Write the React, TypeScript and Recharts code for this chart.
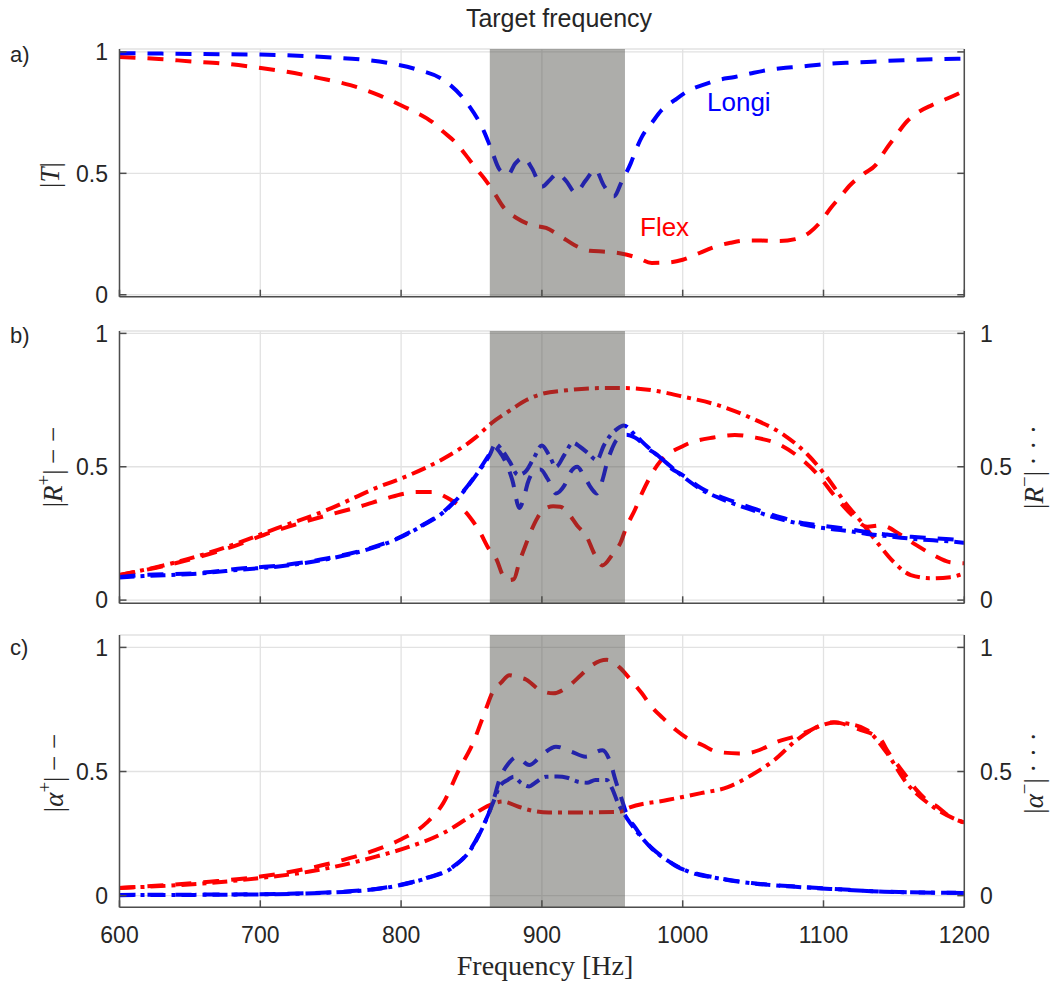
import React from 'react'
import { LineChart, Line, XAxis, YAxis, CartesianGrid, ReferenceArea } from 'recharts'

// axis ticks
const freqTicks = [600, 700, 800, 900, 1000, 1100, 1200]
const valueTicks = [0, 0.5, 1]
const bandStart = 863
const bandEnd = 959

// a) |T|
const tLongiF = [600, 630, 660, 700, 745, 790, 811, 832, 847, 859, 864, 870, 876, 881, 887, 893, 900, 906, 911, 917, 924, 931, 938, 944, 951, 957, 963, 967, 971, 978, 985, 994, 1005, 1015, 1025, 1037, 1048, 1060, 1070, 1083, 1093, 1105, 1116, 1135, 1157, 1180, 1200]
const tLongiV = [0.995, 0.993, 0.991, 0.989, 0.979, 0.955, 0.928, 0.877, 0.788, 0.671, 0.6, 0.515, 0.495, 0.54, 0.565, 0.52, 0.445, 0.475, 0.5, 0.47, 0.42, 0.47, 0.515, 0.45, 0.405, 0.47, 0.54, 0.6, 0.65, 0.707, 0.76, 0.8, 0.843, 0.865, 0.884, 0.897, 0.911, 0.925, 0.933, 0.939, 0.945, 0.952, 0.955, 0.96, 0.966, 0.97, 0.972]
const tFlexF = [600, 628, 651, 674, 696, 719, 742, 764, 785, 801, 812, 822, 830, 839, 846, 853, 861, 867, 873, 882, 892, 903, 914, 923, 934, 946, 957, 968, 978, 990, 1000, 1012, 1022, 1034, 1045, 1056, 1068, 1080, 1090, 1098, 1105, 1112, 1119, 1129, 1137, 1144, 1151, 1158, 1166, 1177, 1188, 1200]
const tFlexV = [0.979, 0.971, 0.961, 0.952, 0.937, 0.918, 0.892, 0.863, 0.82, 0.777, 0.747, 0.712, 0.671, 0.625, 0.575, 0.522, 0.464, 0.411, 0.358, 0.316, 0.288, 0.275, 0.238, 0.205, 0.181, 0.177, 0.169, 0.152, 0.131, 0.133, 0.144, 0.172, 0.196, 0.214, 0.223, 0.223, 0.221, 0.229, 0.256, 0.301, 0.356, 0.404, 0.452, 0.5, 0.534, 0.596, 0.651, 0.706, 0.747, 0.781, 0.808, 0.84]

// b) |R+| (dashed) and |R-| (dash-dot)
const rPlusLongiF = [600, 617, 652, 688, 716, 747, 773, 797, 815, 830, 842, 853, 863, 866, 870, 874, 879, 884, 887, 890, 895, 899, 904, 910, 916, 921, 925, 930, 935, 939, 943, 946, 950, 953, 960, 966, 975, 985, 989, 1001, 1013, 1025, 1037, 1049, 1060, 1072, 1084, 1096, 1108, 1120, 1131, 1143, 1155, 1167, 1178, 1190, 1200]
const rPlusLongiV = [0.087, 0.094, 0.1, 0.119, 0.131, 0.156, 0.1875, 0.231, 0.281, 0.331, 0.394, 0.469, 0.55, 0.575, 0.555, 0.52, 0.45, 0.345, 0.38, 0.44, 0.485, 0.49, 0.455, 0.4, 0.43, 0.485, 0.5, 0.465, 0.42, 0.4, 0.45, 0.51, 0.57, 0.6, 0.62, 0.61, 0.57, 0.53, 0.506, 0.465, 0.42, 0.392, 0.368, 0.346, 0.326, 0.307, 0.29, 0.281, 0.273, 0.264, 0.255, 0.247, 0.24, 0.236, 0.232, 0.228, 0.225]
const rMinusLongiF = [600, 617, 652, 688, 716, 747, 773, 797, 815, 830, 842, 853, 863, 867, 872, 877, 883, 888, 894, 900, 905, 910, 916, 922, 927, 933, 939, 944, 949, 953, 958, 966, 975, 985, 1001, 1013, 1025, 1037, 1049, 1060, 1072, 1084, 1096, 1108, 1120, 1131, 1143, 1155, 1167, 1178, 1190, 1200]
const rMinusLongiV = [0.085, 0.09, 0.098, 0.115, 0.128, 0.153, 0.185, 0.229, 0.279, 0.329, 0.392, 0.467, 0.545, 0.585, 0.56, 0.52, 0.47, 0.48, 0.53, 0.58, 0.545, 0.5, 0.545, 0.59, 0.575, 0.55, 0.525, 0.58, 0.62, 0.64, 0.655, 0.62, 0.575, 0.53, 0.46, 0.415, 0.385, 0.36, 0.338, 0.318, 0.3, 0.285, 0.273, 0.265, 0.257, 0.248, 0.241, 0.234, 0.228, 0.224, 0.22, 0.215]
const rPlusFlexF = [600, 641, 676, 712, 747, 770, 790, 801, 811, 822, 834, 842, 849, 856, 862, 868, 872, 876, 880, 884, 888, 892, 897, 903, 908, 913, 918, 925, 932, 937, 943, 950, 956, 960, 966, 971, 982, 1001, 1022, 1037, 1051, 1070, 1084, 1096, 1108, 1120, 1131, 1141, 1155, 1166, 1178, 1190, 1200]
const rPlusFlexV = [0.094, 0.14, 0.193, 0.262, 0.317, 0.35, 0.382, 0.398, 0.405, 0.405, 0.38, 0.35, 0.31, 0.255, 0.195, 0.15, 0.095, 0.075, 0.078, 0.143, 0.2, 0.255, 0.31, 0.345, 0.352, 0.35, 0.33, 0.28, 0.236, 0.176, 0.13, 0.17, 0.217, 0.274, 0.338, 0.4, 0.506, 0.58, 0.61, 0.619, 0.61, 0.58, 0.53, 0.47, 0.39, 0.32, 0.275, 0.28, 0.244, 0.206, 0.169, 0.142, 0.138]
const rMinusFlexF = [600, 641, 676, 712, 747, 782, 806, 830, 853, 865, 877, 889, 898, 918, 942, 958, 978, 1001, 1025, 1049, 1072, 1089, 1103, 1115, 1127, 1138, 1150, 1162, 1176, 1190, 1200]
const rMinusFlexV = [0.094, 0.143, 0.199, 0.27, 0.337, 0.42, 0.469, 0.53, 0.61, 0.667, 0.71, 0.75, 0.77, 0.787, 0.795, 0.795, 0.787, 0.762, 0.731, 0.682, 0.619, 0.544, 0.457, 0.368, 0.292, 0.217, 0.142, 0.094, 0.082, 0.086, 0.1]

// c) |alpha+| (dashed) and |alpha-| (dash-dot)
const aPlusLongiF = [600, 700, 759, 799, 818, 837, 849, 858, 865, 870, 876, 882, 891, 900, 910, 921, 931, 943, 949, 952, 956, 961, 966, 971, 978, 989, 996, 1006, 1025, 1049, 1084, 1108, 1143, 1200]
const aPlusLongiV = [0.003, 0.006, 0.016, 0.043, 0.071, 0.117, 0.184, 0.278, 0.373, 0.47, 0.53, 0.558, 0.526, 0.567, 0.6, 0.58, 0.56, 0.586, 0.53, 0.47, 0.4, 0.317, 0.277, 0.236, 0.192, 0.144, 0.116, 0.095, 0.071, 0.051, 0.035, 0.027, 0.016, 0.011]
const aMinusLongiF = [600, 700, 759, 799, 818, 837, 849, 858, 865, 870, 876, 880, 885, 891, 895, 903, 911, 918, 925, 932, 938, 946, 950, 954, 958, 963, 970, 978, 989, 1006, 1025, 1049, 1084, 1108, 1143, 1200]
const aMinusLongiV = [0.002, 0.005, 0.015, 0.042, 0.07, 0.115, 0.182, 0.275, 0.37, 0.44, 0.467, 0.479, 0.455, 0.44, 0.454, 0.479, 0.48, 0.475, 0.46, 0.455, 0.466, 0.466, 0.43, 0.373, 0.333, 0.29, 0.24, 0.19, 0.142, 0.093, 0.07, 0.05, 0.034, 0.026, 0.016, 0.011]
const aPlusFlexF = [600, 664, 700, 735, 759, 782, 799, 818, 830, 841, 851, 860, 865, 871, 877, 883, 889, 898, 908, 918, 928, 936, 946, 951, 956, 963, 971, 978, 986, 995, 1003, 1014, 1024, 1040, 1047, 1058, 1067, 1079, 1091, 1100, 1107, 1112, 1122, 1133, 1141, 1145, 1150, 1159, 1166, 1173, 1181, 1190, 1200]
const aPlusFlexV = [0.031, 0.056, 0.077, 0.111, 0.144, 0.184, 0.224, 0.293, 0.373, 0.506, 0.614, 0.748, 0.82, 0.858, 0.888, 0.88, 0.87, 0.83, 0.815, 0.84, 0.89, 0.93, 0.95, 0.94, 0.915, 0.87, 0.815, 0.76, 0.715, 0.668, 0.635, 0.607, 0.58, 0.573, 0.575, 0.595, 0.62, 0.64, 0.667, 0.692, 0.698, 0.695, 0.675, 0.655, 0.627, 0.587, 0.547, 0.479, 0.426, 0.386, 0.358, 0.317, 0.295]
const aMinusFlexF = [600, 664, 700, 735, 759, 782, 806, 830, 849, 863, 872, 884, 891, 905, 930, 955, 961, 989, 1013, 1032, 1049, 1065, 1081, 1096, 1108, 1120, 1131, 1145, 1159, 1178, 1200]
const aMinusFlexV = [0.031, 0.051, 0.071, 0.097, 0.124, 0.157, 0.197, 0.252, 0.318, 0.365, 0.379, 0.357, 0.345, 0.335, 0.335, 0.338, 0.353, 0.385, 0.413, 0.437, 0.486, 0.546, 0.627, 0.68, 0.697, 0.69, 0.667, 0.575, 0.454, 0.357, 0.293]

const zip = (f: number[], v: number[]) => f.map((x, i) => ({ f: x, v: v[i] }))

const BLUE = '#0000ff'
const RED = '#ff0000'
const DASH = '16 12'
const DASHDOT = '15 6 4 6'
const AXIS = '#4d4d4d'
const TEXT = '#262626'
const sans = '"Liberation Sans", Arial, sans-serif'
const serif = '"Liberation Serif", "Times New Roman", serif'

// keeps tick marks (and grid positions) but draws no label
const noLabel = () => <g />

type Series = { data: { f: number; v: number }[]; color: string; dash: string }

interface PanelProps {
  top: number
  height: number
  plotTop: number
  plotBottom: number
  domain: [number, number]
  series: Series[]
  xLabels?: boolean
  rightLabels?: boolean
}

function Panel({ top, height, plotTop, plotBottom, domain, series, xLabels, rightLabels }: PanelProps) {
  const tickFont = { fontSize: 23, fill: TEXT, fontFamily: sans }
  return (
    <div style={{ position: 'absolute', left: 0, top }}>
      <LineChart width={1051} height={height} margin={{ top: plotTop, right: 0, bottom: 0, left: 0 }}>
        <CartesianGrid xAxisId="b" yAxisId="l" stroke="#e2e2e2" strokeWidth={1.3} />
        <XAxis
          xAxisId="b"
          type="number"
          dataKey="f"
          domain={[600, 1200]}
          ticks={freqTicks}
          interval={0}
          allowDataOverflow
          height={height - plotBottom}
          stroke={AXIS}
          strokeWidth={1.5}
          tickSize={-7}
          tickMargin={26.7}
          tick={xLabels ? tickFont : noLabel}
        />
        <XAxis
          xAxisId="t"
          orientation="top"
          type="number"
          dataKey="f"
          domain={[600, 1200]}
          ticks={freqTicks}
          interval={0}
          allowDataOverflow
          height={0}
          stroke={AXIS}
          strokeWidth={1.5}
          tickSize={-7}
          tick={noLabel}
        />
        <YAxis
          yAxisId="l"
          type="number"
          domain={domain}
          ticks={valueTicks}
          interval={0}
          allowDataOverflow
          width={119.5}
          stroke={AXIS}
          strokeWidth={1.5}
          tickSize={-7}
          tickMargin={18.5}
          tick={tickFont}
        />
        <YAxis
          yAxisId="r"
          orientation="right"
          type="number"
          domain={domain}
          ticks={valueTicks}
          interval={0}
          allowDataOverflow
          width={86.7}
          stroke={AXIS}
          strokeWidth={1.5}
          tickSize={-7}
          tickMargin={22.7}
          tick={rightLabels ? { ...tickFont, textAnchor: 'start' } : noLabel}
        />
        {series.map((s, i) => (
          <Line
            key={i}
            xAxisId="b"
            yAxisId="l"
            data={s.data}
            dataKey="v"
            type="monotone"
            stroke={s.color}
            strokeWidth={4}
            strokeDasharray={s.dash}
            dot={false}
            activeDot={false}
            isAnimationActive={false}
          />
        ))}
        <ReferenceArea
          xAxisId="b"
          yAxisId="l"
          x1={bandStart}
          x2={bandEnd}
          fill="#4c4c46"
          fillOpacity={0.46}
          stroke="none"
          zIndex={600}
        />
      </LineChart>
    </div>
  )
}

const abs = (extra: React.CSSProperties): React.CSSProperties => ({ position: 'absolute', whiteSpace: 'nowrap', lineHeight: 1, ...extra })

function VLabel({ cx, cy, children }: { cx: number; cy: number; children: React.ReactNode }) {
  return (
    <div
      style={abs({
        left: cx,
        top: cy,
        transform: 'translate(-50%, -50%) rotate(-90deg)',
        fontFamily: serif,
        fontSize: 27,
        color: TEXT,
      })}
    >
      {children}
    </div>
  )
}

const sup: React.CSSProperties = { fontSize: '0.7em', verticalAlign: '0.6em' }

export default function App() {
  const panelA: Series[] = [
    { data: zip(tFlexF, tFlexV), color: RED, dash: DASH },
    { data: zip(tLongiF, tLongiV), color: BLUE, dash: DASH },
  ]
  const panelB: Series[] = [
    { data: zip(rMinusFlexF, rMinusFlexV), color: RED, dash: DASHDOT },
    { data: zip(rPlusFlexF, rPlusFlexV), color: RED, dash: DASH },
    { data: zip(rMinusLongiF, rMinusLongiV), color: BLUE, dash: DASHDOT },
    { data: zip(rPlusLongiF, rPlusLongiV), color: BLUE, dash: DASH },
  ]
  const panelC: Series[] = [
    { data: zip(aMinusFlexF, aMinusFlexV), color: RED, dash: DASHDOT },
    { data: zip(aPlusFlexF, aPlusFlexV), color: RED, dash: DASH },
    { data: zip(aMinusLongiF, aMinusLongiV), color: BLUE, dash: DASHDOT },
    { data: zip(aPlusLongiF, aPlusLongiV), color: BLUE, dash: DASH },
  ]

  return (
    <div style={{ position: 'absolute', left: 0, top: 0, width: 1051, height: 985, background: '#fff', overflow: 'hidden' }}>
      <Panel top={0} height={310} plotTop={49} plotBottom={296.7} domain={[-0.008, 1.012]} series={panelA} />
      <Panel top={310} height={310} plotTop={21} plotBottom={293.3} domain={[-0.012, 1.009]} series={panelB} rightLabels />
      <Panel top={620} height={365} plotTop={15} plotBottom={287.3} domain={[-0.047, 1.05]} series={panelC} xLabels rightLabels />

      <div style={abs({ left: 409, top: 6, width: 300, textAlign: 'center', fontFamily: sans, fontSize: 25, color: TEXT })}>
        Target frequency
      </div>
      <div style={abs({ left: 10, top: 44, fontFamily: sans, fontSize: 22, color: TEXT })}>a)</div>
      <div style={abs({ left: 10, top: 325, fontFamily: sans, fontSize: 22, color: TEXT })}>b)</div>
      <div style={abs({ left: 10, top: 637, fontFamily: sans, fontSize: 22, color: TEXT })}>c)</div>

      <div style={abs({ left: 707, top: 89, fontFamily: sans, fontSize: 26, color: BLUE })}>Longi</div>
      <div style={abs({ left: 640, top: 214, fontFamily: sans, fontSize: 26, color: RED })}>Flex</div>

      <VLabel cx={50} cy={175}>
        |<i>T</i>|
      </VLabel>
      <VLabel cx={51} cy={467}>
        |<i>R</i><span style={sup}>+</span>|&thinsp;− −
      </VLabel>
      <VLabel cx={1032} cy={467}>
        |<i>R</i><span style={sup}>−</span>|&thinsp;· · ·
      </VLabel>
      <VLabel cx={52} cy={773}>
        |<i>α</i><span style={sup}>+</span>|&thinsp;− −
      </VLabel>
      <VLabel cx={1032} cy={773}>
        |<i>α</i><span style={sup}>−</span>|&thinsp;· · ·
      </VLabel>

      <div style={abs({ left: 345, top: 952, width: 400, textAlign: 'center', fontFamily: serif, fontSize: 28, color: TEXT })}>
        Frequency [Hz]
      </div>
    </div>
  )
}
